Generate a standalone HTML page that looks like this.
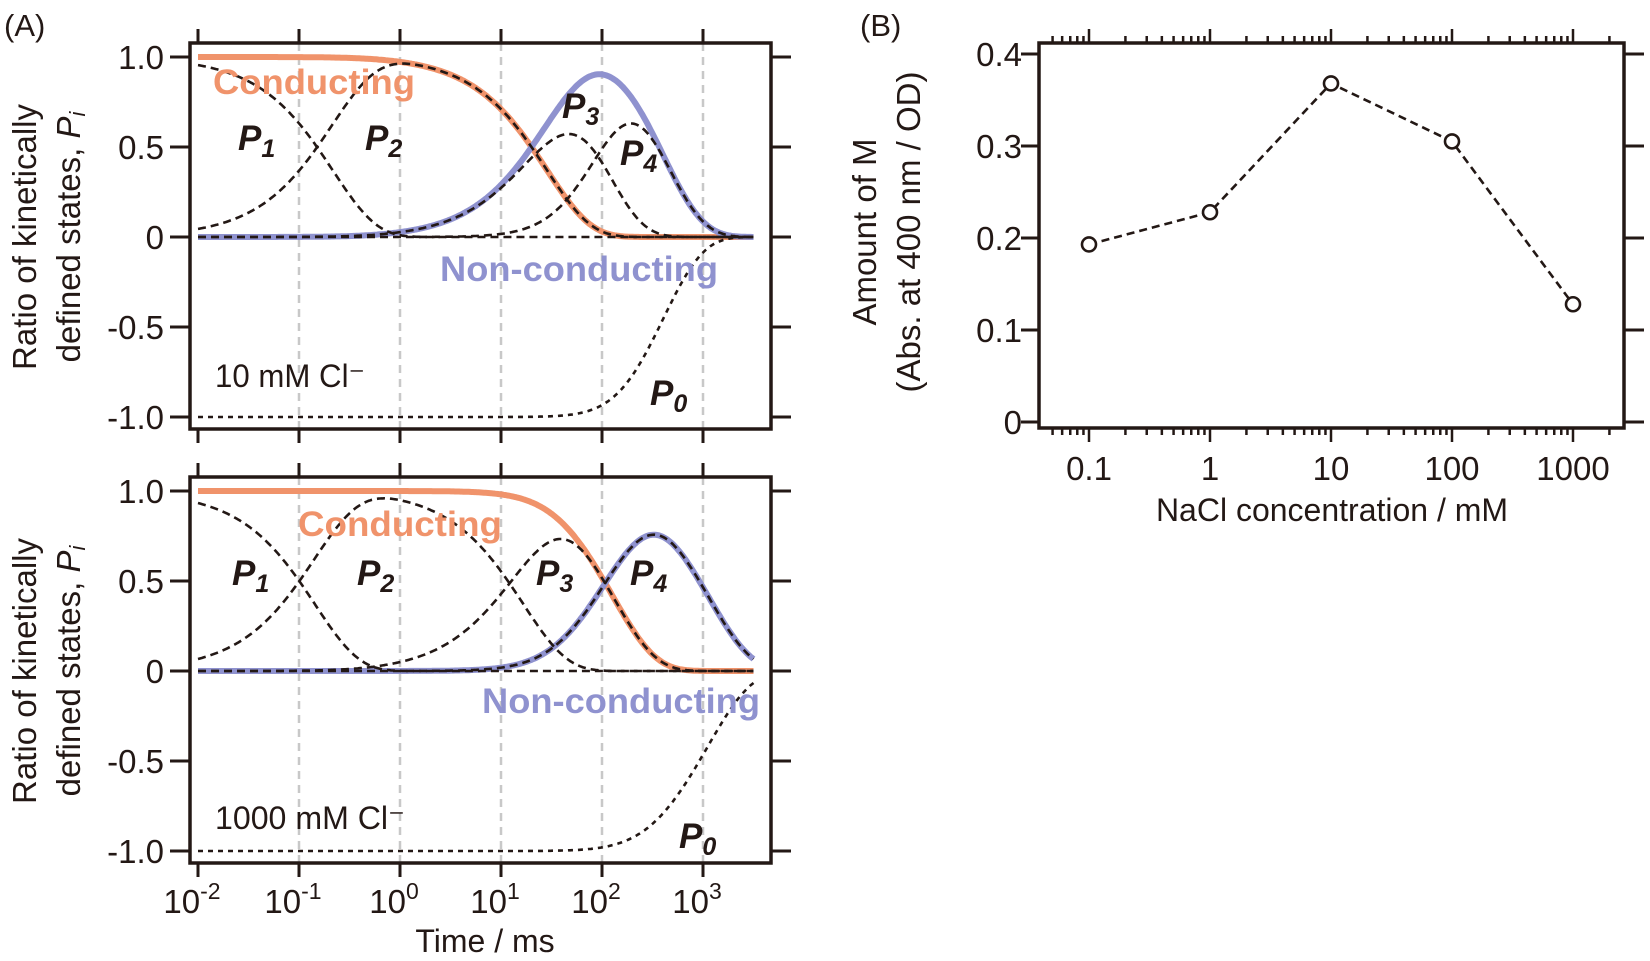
<!DOCTYPE html>
<html><head><meta charset="utf-8"><style>
html,body{margin:0;padding:0;background:#fff}
svg{display:block}
text{font-family:"Liberation Sans",sans-serif}
</style></head><body>
<svg id="s" width="1650" height="961" viewBox="0 0 1650 961" xmlns="http://www.w3.org/2000/svg">
<g id="g"></g>
<text x="4" y="36" font-size="31" fill="#231815">(A)</text>
<text x="860" y="36" font-size="31" fill="#231815">(B)</text>
</svg>
<script>
const NS="http://www.w3.org/2000/svg";
const g=document.getElementById('g');
function el(t,a,txt){const e=document.createElementNS(NS,t);for(const k in a)e.setAttribute(k,a[k]);if(t==='text'&&!a.fill)e.setAttribute('fill','#231815');if(txt!==undefined)e.textContent=txt;g.appendChild(e);return e;}
function line(x1,y1,x2,y2,st,w,da){return el('line',{x1,y1,x2,y2,stroke:st||'#231815','stroke-width':w||3,'stroke-dasharray':da||'none'});}
function bateman(ks,n,t){let pre=1;for(let i=0;i<n;i++)pre*=ks[i];let s=0;for(let j=0;j<=n;j++){let d=1;for(let l=0;l<=n;l++)if(l!=j)d*=(ks[l]-ks[j]);s+=Math.exp(-ks[j]*t)/d;}return pre*s;}
const X=t=>198+101*(Math.log10(t)+2);
function panelA(top,ks,condN,lbl){
 const y0=top+14, Y=v=>y0+180-v*180;
 const L=190,R=771,T=top,B=top+386;
 for(let d=-1;d<=3;d++){const x=198+101*(d+2);line(x,T,x,B,'#c8c8c8',2.5,'8,6');}
 const pts=[];for(let i=0;i<=400;i++){const lt=-2+5.5*i/400;pts.push(Math.pow(10,lt));}
 const P=n=>pts.map(t=>bateman(ks,n,t));
 const p=[P(0),P(1),P(2),P(3)];
 function path(vals,st,w,da){let d='';pts.forEach((t,i)=>{d+=(i?'L':'M')+X(t).toFixed(1)+','+Y(vals[i]).toFixed(1);});el('path',{d,fill:'none',stroke:st,'stroke-width':w,'stroke-dasharray':da||'none'});}
 const cond=pts.map((t,i)=>{let s=0;for(let n=0;n<condN;n++)s+=p[n][i];return s;});
 const non=pts.map((t,i)=>{let s=0;for(let n=condN;n<4;n++)s+=p[n][i];return s;});
 const p0=pts.map((t,i)=>-(p[0][i]+p[1][i]+p[2][i]+p[3][i]));
 path(cond,'#f0936b',6);path(non,'#8f92cf',6);
 for(let n=0;n<4;n++)path(p[n],'#231815',2.6,'8,5');
 path(p0,'#231815',2.6,'5,5');
 el('rect',{x:L,y:T,width:R-L,height:B-T,fill:'none',stroke:'#231815','stroke-width':3.5});
 const labs=['1.0','0.5','0','-0.5','-1.0'];
 labs.forEach((s,i)=>{const y=y0+90*i;line(L-20,y,L,y);line(R,y,R+20,y);el('text',{x:164,y:y+12,'font-size':33,'text-anchor':'end'},s);});
 for(let d=-2;d<=3;d++){const x=198+101*(d+2);line(x,T-14,x,T);line(x,B,x,B+14);}
 const lb=(x,y,s,sz,fill,w,ital,tl)=>{const e=el('text',{x,y,'font-size':sz,fill,'font-weight':w||'normal','font-style':ital?'italic':'normal'},s);if(tl){e.setAttribute('textLength',tl);e.setAttribute('lengthAdjust','spacingAndGlyphs');}return e;};
 lbl.forEach(a=>{if(a.p!==undefined){const e=lb(a.x,a.y,'P',35,'#231815','bold',true);const ts=document.createElementNS(NS,'tspan');ts.setAttribute('font-size',25);ts.setAttribute('dy',7);ts.textContent=a.p;e.appendChild(ts);}else lb(a.x,a.y,a.s,a.sz,a.f,a.w,false,a.tl);});
 const cx=36, cy=top+194;
 el('text',{x:cx,y:cy,'font-size':33,'text-anchor':'middle',transform:`rotate(-90 ${cx} ${cy})`},'Ratio of kinetically');
 const e=el('text',{x:cx+44,y:cy,'font-size':33,'text-anchor':'middle',transform:`rotate(-90 ${cx+44} ${cy})`},'defined states, ');
 const ts=document.createElementNS(NS,'tspan');ts.setAttribute('font-style','italic');ts.textContent='P';e.appendChild(ts);
 const t2=document.createElementNS(NS,'tspan');t2.setAttribute('font-style','italic');t2.setAttribute('font-size',22);t2.setAttribute('dy',5);t2.textContent='i';e.appendChild(t2);
}
panelA(43,[4.6,0.035,0.012,0.0028],2,[
 {s:'Conducting',x:213,y:94,sz:35,f:'#f0936b',w:'bold',tl:202},
 {s:'Non-conducting',x:440,y:281,sz:35,f:'#8f92cf',w:'bold',tl:278},
 {p:'1',x:238,y:150},{p:'2',x:365,y:150},{p:'3',x:562,y:118},{p:'4',x:620,y:165},{p:'0',x:650,y:405},
 {s:'10 mM Cl\u207B',x:215,y:387,sz:32,f:'#231815',tl:150}
]);
panelA(477,[6.9,0.06,0.008,0.0009],3,[
 {s:'Conducting',x:298,y:536,sz:35,f:'#f0936b',w:'bold',tl:204},
 {s:'Non-conducting',x:482,y:713,sz:35,f:'#8f92cf',w:'bold',tl:278},
 {p:'1',x:232,y:585},{p:'2',x:357,y:585},{p:'3',x:536,y:585},{p:'4',x:630,y:585},{p:'0',x:679,y:848},
 {s:'1000 mM Cl\u207B',x:215,y:829,sz:32,f:'#231815',tl:190}
]);
for(let d=-2;d<=3;d++){const x=198+101*(d+2);const e=el('text',{x:x-6,y:913,'font-size':33,'text-anchor':'middle'},'10');const ts=document.createElementNS(NS,'tspan');ts.setAttribute('font-size',23);ts.setAttribute('dy',-14);ts.textContent=String(d);e.appendChild(ts);}
el('text',{x:485,y:952,'font-size':32,'text-anchor':'middle'},'Time / ms');
(function(){
 const L=1039,R=1624,T=43,B=428;const XB=c=>1089+121*Math.log10(c/0.1);const YB=v=>422-v*920;
 el('rect',{x:L,y:T,width:R-L,height:B-T,fill:'none',stroke:'#231815','stroke-width':3.5});
 [0,0.1,0.2,0.3,0.4].forEach(v=>{const y=YB(v);line(L-18,y,L,y);line(R,y,R+20,y);el('text',{x:1022,y:y+12,'font-size':33,'text-anchor':'end'},v===0?'0':v.toFixed(1));});
 for(let e=-2;e<=3;e++)for(let m=1;m<=9;m++){const c=m*Math.pow(10,e);const x=XB(c);if(x<L+3||x>R-3)continue;const len=m===1?14:7;line(x,T-len,x,T,'#231815',2.5);line(x,B,x,B+len,'#231815',2.5);}
 ['0.1','1','10','100','1000'].forEach(s=>{el('text',{x:XB(+s),y:480,'font-size':33,'text-anchor':'middle'},s);});
 const d=[[0.1,0.193],[1,0.228],[10,0.368],[100,0.305],[1000,0.128]];
 el('path',{d:d.map((p,i)=>(i?'L':'M')+XB(p[0])+','+YB(p[1])).join(''),fill:'none',stroke:'#231815','stroke-width':2.6,'stroke-dasharray':'8,5'});
 d.forEach(p=>el('circle',{cx:XB(p[0]),cy:YB(p[1]),r:7,fill:'#fff',stroke:'#231815','stroke-width':2.6}));
 el('text',{x:1332,y:521,'font-size':32,'text-anchor':'middle'},'NaCl concentration / mM');
 const cy=232;
 el('text',{x:876,y:cy,'font-size':33,'text-anchor':'middle',transform:`rotate(-90 876 ${cy})`},'Amount of M');
 el('text',{x:920,y:cy,'font-size':33,'text-anchor':'middle',transform:`rotate(-90 920 ${cy})`},'(Abs. at 400 nm / OD)');
})();
</script>
</body></html>
